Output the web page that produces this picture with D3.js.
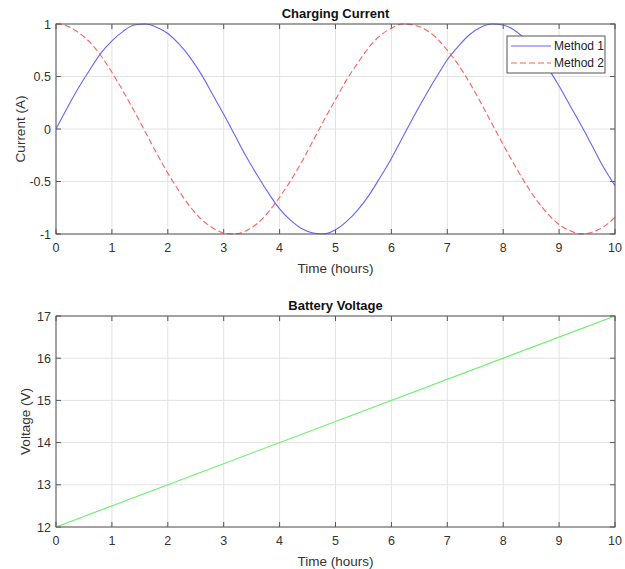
<!DOCTYPE html>
<html>
<head>
<meta charset="utf-8">
<script src="https://cdn.jsdelivr.net/npm/d3@7"></script>
<style>
  body { margin: 0; background: #fff; }
  text { font-family: "Liberation Sans", Arial, sans-serif; }
  .tick-label { font-size: 12.5px; fill: #333; }
  .axis-label { font-size: 13.5px; fill: #333; }
  .title { font-size: 13px; font-weight: bold; fill: #111; }
</style>
</head>
<body>
<svg width="625" height="569"></svg>
<script>
// time samples (hours)
const hours = [0, 0.2, 0.4, 0.6, 0.8, 1, 1.2, 1.4, 1.6, 1.8, 2, 2.2, 2.4, 2.6, 2.8, 3, 3.2, 3.4, 3.6, 3.8,
  4, 4.2, 4.4, 4.6, 4.8, 5, 5.2, 5.4, 5.6, 5.8, 6, 6.2, 6.4, 6.6, 6.8, 7, 7.2, 7.4, 7.6, 7.8,
  8, 8.2, 8.4, 8.6, 8.8, 9, 9.2, 9.4, 9.6, 9.8, 10]

const method1 = [0.00, 0.20, 0.39, 0.56, 0.72, 0.84, 0.93, 0.99, 1.00, 0.97, 0.91, 0.81, 0.68, 0.52, 0.33, 0.14,
  -0.06, -0.26, -0.44, -0.61, -0.76, -0.87, -0.95, -0.99, -1.00, -0.96, -0.88, -0.77, -0.63, -0.46, -0.28,
  -0.08, 0.12, 0.31, 0.49, 0.66, 0.79, 0.90, 0.97, 1.00, 0.99, 0.94, 0.85, 0.73, 0.58, 0.41, 0.22, 0.03,
  -0.17, -0.37, -0.54]

const method2 = [1.00, 0.98, 0.92, 0.83, 0.70, 0.54, 0.36, 0.17, -0.03, -0.23, -0.42, -0.59, -0.74, -0.86,
  -0.94, -0.99, -1.00, -0.97, -0.90, -0.79, -0.65, -0.49, -0.31, -0.11, 0.09, 0.28, 0.47, 0.63, 0.78, 0.89,
  0.96, 1.00, 0.99, 0.95, 0.87, 0.75, 0.61, 0.44, 0.25, 0.05, -0.15, -0.34, -0.52, -0.68, -0.81, -0.91,
  -0.97, -1.00, -0.98, -0.93, -0.84]

const voltHours = [0, 10]
const voltage = [12, 17]

const xTicks = [0, 1, 2, 3, 4, 5, 6, 7, 8, 9, 10]
const currentTicks = [-1, -0.5, 0, 0.5, 1]
const voltageTicks = [12, 13, 14, 15, 16, 17]

const legendNames = ['Method 1', 'Method 2']

const LAYOUT = {
  left: 56,
  right: 615,
  top1: 24, bottom1: 234,
  top2: 316, bottom2: 527,
  tickLen: 5
}

const svg = d3.select('svg')

function drawPanel(opts) {
  const x = d3.scaleLinear().domain([0, 10]).range([LAYOUT.left, LAYOUT.right])
  const y = d3.scaleLinear().domain(opts.yDomain).range([opts.bottom, opts.top])
  const g = svg.append('g')

  // grid
  g.append('g').selectAll('line').data(xTicks).enter().append('line')
    .attr('x1', d => x(d)).attr('x2', d => x(d))
    .attr('y1', opts.top).attr('y2', opts.bottom)
    .attr('stroke', '#e3e3e3').attr('stroke-width', 1)
  g.append('g').selectAll('line').data(opts.yTicks).enter().append('line')
    .attr('x1', LAYOUT.left).attr('x2', LAYOUT.right)
    .attr('y1', d => y(d)).attr('y2', d => y(d))
    .attr('stroke', '#e3e3e3').attr('stroke-width', 1)

  // inward ticks on all four sides
  const t = LAYOUT.tickLen
  const ticks = g.append('g').attr('stroke', '#555').attr('stroke-width', 1)
  xTicks.forEach(d => {
    ticks.append('line').attr('x1', x(d)).attr('x2', x(d)).attr('y1', opts.bottom).attr('y2', opts.bottom - t)
    ticks.append('line').attr('x1', x(d)).attr('x2', x(d)).attr('y1', opts.top).attr('y2', opts.top + t)
  })
  opts.yTicks.forEach(d => {
    ticks.append('line').attr('x1', LAYOUT.left).attr('x2', LAYOUT.left + t).attr('y1', y(d)).attr('y2', y(d))
    ticks.append('line').attr('x1', LAYOUT.right).attr('x2', LAYOUT.right - t).attr('y1', y(d)).attr('y2', y(d))
  })

  // lines
  opts.series.forEach(s => {
    const line = d3.line()
      .x((d, i) => x(s.xs[i]))
      .y(d => y(d))
      .curve(d3.curveMonotoneX)
    g.append('path')
      .datum(s.ys)
      .attr('d', line)
      .attr('fill', 'none')
      .attr('stroke', s.color)
      .attr('stroke-width', 1.1)
      .attr('stroke-dasharray', s.dash || null)
  })

  // box
  g.append('rect')
    .attr('x', LAYOUT.left).attr('y', opts.top)
    .attr('width', LAYOUT.right - LAYOUT.left).attr('height', opts.bottom - opts.top)
    .attr('fill', 'none').attr('stroke', '#555').attr('stroke-width', 1)

  // tick labels
  g.append('g').selectAll('text').data(xTicks).enter().append('text')
    .attr('class', 'tick-label')
    .attr('x', d => x(d)).attr('y', opts.bottom + 18)
    .attr('text-anchor', 'middle')
    .text(d => d)
  g.append('g').selectAll('text').data(opts.yTicks).enter().append('text')
    .attr('class', 'tick-label')
    .attr('x', LAYOUT.left - 5).attr('y', d => y(d) + 4.5)
    .attr('text-anchor', 'end')
    .text(d => d)

  // labels
  g.append('text').attr('class', 'axis-label')
    .attr('x', (LAYOUT.left + LAYOUT.right) / 2).attr('y', opts.bottom + 39)
    .attr('text-anchor', 'middle').text('Time (hours)')
  g.append('text').attr('class', 'axis-label')
    .attr('transform', `translate(${opts.yLabelX}, ${(opts.top + opts.bottom) / 2}) rotate(-90)`)
    .attr('text-anchor', 'middle').text(opts.yLabel)
  g.append('text').attr('class', 'title')
    .attr('x', (LAYOUT.left + LAYOUT.right) / 2).attr('y', opts.top - 6)
    .attr('text-anchor', 'middle').text(opts.title)

  return g
}

const topPanel = drawPanel({
  top: LAYOUT.top1, bottom: LAYOUT.bottom1,
  yDomain: [-1, 1], yTicks: currentTicks,
  title: 'Charging Current', yLabel: 'Current (A)', yLabelX: 25,
  series: [
    { xs: hours, ys: method1, color: '#6464ff' },
    { xs: hours, ys: method2, color: '#ff6060', dash: '6,3' }
  ]
})

drawPanel({
  top: LAYOUT.top2, bottom: LAYOUT.bottom2,
  yDomain: [12, 17], yTicks: voltageTicks,
  title: 'Battery Voltage', yLabel: 'Voltage (V)', yLabelX: 30,
  series: [
    { xs: voltHours, ys: voltage, color: '#66f066' }
  ]
})

// legend
const legend = topPanel.append('g').attr('transform', 'translate(507, 36)')
legend.append('rect')
  .attr('width', 98).attr('height', 37)
  .attr('fill', '#fff').attr('stroke', '#555').attr('stroke-width', 1)
const legendStyles = [{ color: '#6464ff' }, { color: '#ff6060', dash: '6,3' }]
legend.selectAll('g.item').data(legendNames).enter().append('g')
  .attr('class', 'item')
  .attr('transform', (d, i) => `translate(0, ${10 + i * 17})`)
  .each(function(d, i) {
    const item = d3.select(this)
    item.append('line')
      .attr('x1', 4).attr('x2', 44).attr('y1', 0).attr('y2', 0)
      .attr('stroke', legendStyles[i].color).attr('stroke-width', 1.1)
      .attr('stroke-dasharray', legendStyles[i].dash || null)
    item.append('text')
      .attr('x', 47).attr('y', 4)
      .style('font-size', '12px').style('fill', '#222')
      .text(d)
  })
</script>
</body>
</html>
